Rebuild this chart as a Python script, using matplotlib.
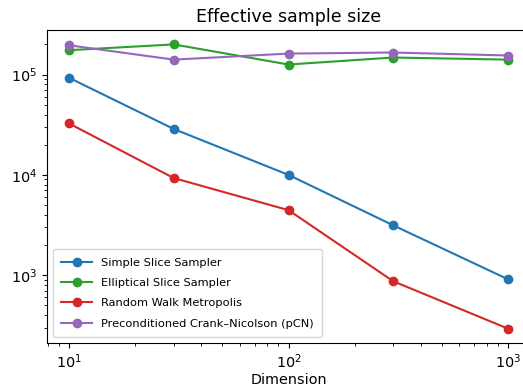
import matplotlib
matplotlib.use("Agg")
import matplotlib.pyplot as plt

dims = [10, 30, 100, 300, 1000]
simple_slice = [9.3e4, 2.87e4, 1.0e4, 3.14e3, 910]
elliptical_slice = [1.75e5, 2.0e5, 1.26e5, 1.48e5, 1.41e5]
rwm = [3.26e4, 9.3e3, 4.45e3, 870, 293]
pcn = [1.96e5, 1.41e5, 1.62e5, 1.66e5, 1.55e5]

plt.rcParams['font.size'] = 10.4

fig = plt.figure(figsize=(5.23, 3.87), dpi=100)
ax = fig.add_axes([0.0899, 0.114, 0.9235, 0.808])

ax.plot(dims, simple_slice, 'o-', color='tab:blue', label='Simple Slice Sampler')
ax.plot(dims, elliptical_slice, 'o-', color='tab:green', label='Elliptical Slice Sampler')
ax.plot(dims, rwm, 'o-', color='tab:red', label='Random Walk Metropolis')
ax.plot(dims, pcn, 'o-', color='tab:purple', label='Preconditioned Crank\u2013Nicolson (pCN)')

ax.set_xscale('log')
ax.set_yscale('log')
# right edge of the axes falls off the canvas in the reference
ax.spines['right'].set_visible(False)
ax.set_xlabel('Dimension', labelpad=1.5)
ax.set_title('Effective sample size', fontsize=12.5)
ax.legend(loc='lower left', fontsize=8.2, labelspacing=0.9, handlelength=2.7,
          borderpad=0.75)

fig.savefig('out.png', dpi=100)
